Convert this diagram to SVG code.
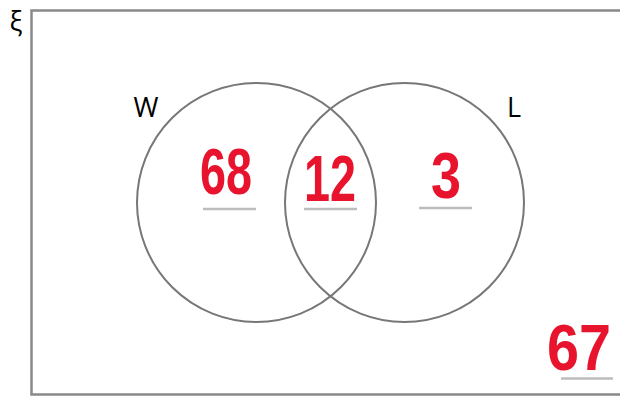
<svg xmlns="http://www.w3.org/2000/svg" width="620" height="397" viewBox="0 0 620 397">
<style>
.frame{fill:none;stroke:#898989;stroke-width:2.5}
.set{fill:none;stroke:#777;stroke-width:2}
.lbl{font-family:"Open Sans","Liberation Sans",sans-serif;font-size:27px;fill:#000}
.num{font-family:"Liberation Sans",sans-serif;font-weight:bold;font-size:64px;fill:#e8132c}
.ul{stroke:#bdbdbd;stroke-width:2.5}
</style>
<rect width="620" height="397" fill="#fff"/>
<g id="universe">
<rect class="frame" x="31.5" y="10.5" width="600" height="384"/>
<text class="lbl" x="16" y="31" text-anchor="middle">ξ</text>
</g>
<g id="setW">
<circle class="set" cx="256.5" cy="202.5" r="119.5"/>
<text class="lbl" x="146" y="117" text-anchor="middle">W</text>
</g>
<g id="setL">
<circle class="set" cx="404.5" cy="202.5" r="119.5"/>
<text class="lbl" x="514" y="117" text-anchor="middle">L</text>
</g>
<g id="onlyW">
<text class="num" x="200" y="194" textLength="52" lengthAdjust="spacingAndGlyphs">68</text>
<line class="ul" x1="203" y1="209" x2="256" y2="209"/>
</g>
<g id="both">
<text class="num" x="304" y="201" textLength="52" lengthAdjust="spacingAndGlyphs">12</text>
<line class="ul" x1="304" y1="209" x2="357" y2="209"/>
</g>
<g id="onlyL">
<text class="num" x="431" y="198" textLength="30" lengthAdjust="spacingAndGlyphs">3</text>
<line class="ul" x1="419" y1="208" x2="472" y2="208"/>
</g>
<g id="neither">
<text class="num" x="547" y="370" textLength="64" lengthAdjust="spacingAndGlyphs">67</text>
<line class="ul" x1="561" y1="378.5" x2="613" y2="378.5"/>
</g>
<g id="connectors"/>
</svg>
